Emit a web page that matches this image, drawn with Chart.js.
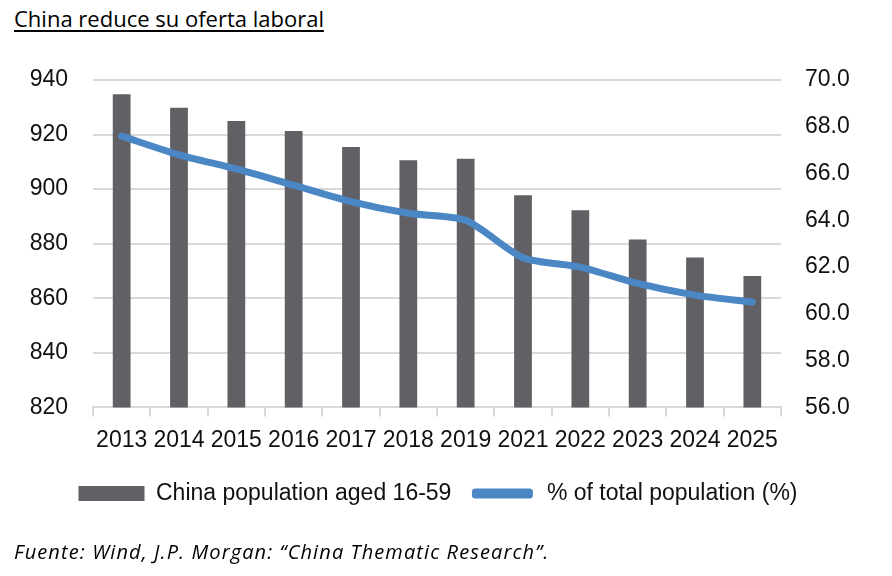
<!DOCTYPE html>
<html>
<head>
<meta charset="utf-8">
<script src="https://cdn.jsdelivr.net/npm/chart.js@4"></script>
<style>
  body { margin: 0; background: #fff; }
  #wrap { position: relative; width: 892px; height: 576px; }
  #myChart { position: absolute; left: 0; top: 0; }
  .title {
    position: absolute; left: 14px; top: 3px;
    font-family: "Open Sans", Lato, sans-serif; font-size: 22px;
    text-decoration: underline; text-underline-offset: 3px; color: #000;
  }
  .source {
    position: absolute; left: 14px; top: 538px;
    font-family: "Open Sans", Lato, sans-serif; font-size: 20px;
    letter-spacing: 1.1px; font-style: italic; color: #000;
  }
</style>
</head>
<body>
<div id="wrap">
  <div class="title">China reduce su oferta laboral</div>
  <canvas id="myChart" width="892" height="576"></canvas>
  <div class="source">Fuente: Wind, J.P. Morgan: “China Thematic Research”.</div>
</div>
<script>
const years = ["2013", "2014", "2015", "2016", "2017", "2018", "2019", "2021", "2022", "2023", "2024", "2025"];
const population = [934.8, 929.8, 925.0, 921.3, 915.4, 910.6, 911.1, 897.8, 892.3, 881.5, 874.9, 868.2];
const shareOfTotal = [67.6, 66.8, 66.2, 65.5, 64.8, 64.3, 64.0, 62.4, 62.0, 61.3, 60.8, 60.5];

const axisFont = "'Liberation Sans', Arial, sans-serif";
const barColor = "#616165";
const lineColor = "#4a87c4";
const gridColor = "#d9d9d9";

chartIt();

function chartIt() {
  const ctx = document.getElementById("myChart");

  new Chart(ctx, {
    type: "bar",
    data: {
      labels: years,
      datasets: [
        {
          label: "China population aged 16-59",
          data: population,
          backgroundColor: barColor,
          yAxisID: "y",
          order: 1,
          categoryPercentage: 1,
          barPercentage: 0.31,
        },
        {
          type: "line",
          label: "% of total population (%)",
          data: shareOfTotal,
          borderColor: lineColor,
          backgroundColor: lineColor,
          borderWidth: 7,
          borderCapStyle: "round",
          pointRadius: 0,
          tension: 0.25,
          yAxisID: "y1",
          order: 0,
        },
      ],
    },
    options: {
      responsive: false,
      animation: false,
      layout: { padding: { top: 80, left: 0, right: 16, bottom: 61 } },
      plugins: {
        tooltip: { enabled: false },
        legend: {
          position: "bottom",
          labels: {
            font: { family: axisFont, size: 23 },
            color: "#111",
            boxWidth: 66,
            boxHeight: 15,
            padding: 18,
            useBorderRadius: true,
            sort: (a, b) => a.datasetIndex - b.datasetIndex,
            generateLabels: function (chart) {
              const items = Chart.defaults.plugins.legend.labels.generateLabels(chart);
              items.forEach((item) => {
                if (item.datasetIndex === 1) {
                  // thinner rounded bar for the line series
                  item.strokeStyle = "#fff";
                  item.lineWidth = 5;
                  item.borderRadius = 6;
                } else {
                  item.lineWidth = 0;
                  item.borderRadius = 0;
                }
              });
              return items;
            },
          },
        },
      },
      scales: {
        x: {
          offset: true,
          grid: {
            offset: true,
            drawOnChartArea: false,
            tickLength: 9,
            color: gridColor,
            lineWidth: 2,
          },
          border: { color: gridColor, width: 2 },
          ticks: {
            font: { family: axisFont, size: 23 },
            color: "#111",
            padding: 10,
            maxRotation: 0,
            autoSkip: false,
          },
        },
        y: {
          position: "left",
          min: 820,
          max: 940,
          afterFit: (scale) => { scale.width = 93; },
          grid: { color: gridColor, lineWidth: 2, drawTicks: false },
          border: { display: false },
          ticks: {
            stepSize: 20,
            padding: 25,
            font: { family: axisFont, size: 23 },
            color: "#111",
          },
        },
        y1: {
          position: "right",
          min: 56,
          max: 70,
          afterFit: (scale) => { scale.width = 95; },
          grid: { display: false, drawTicks: false },
          border: { display: false },
          ticks: {
            stepSize: 2,
            padding: 24,
            font: { family: axisFont, size: 23 },
            color: "#111",
            callback: function (value) {
              return value.toFixed(1);
            },
          },
        },
      },
    },
  });
}
</script>
</body>
</html>
